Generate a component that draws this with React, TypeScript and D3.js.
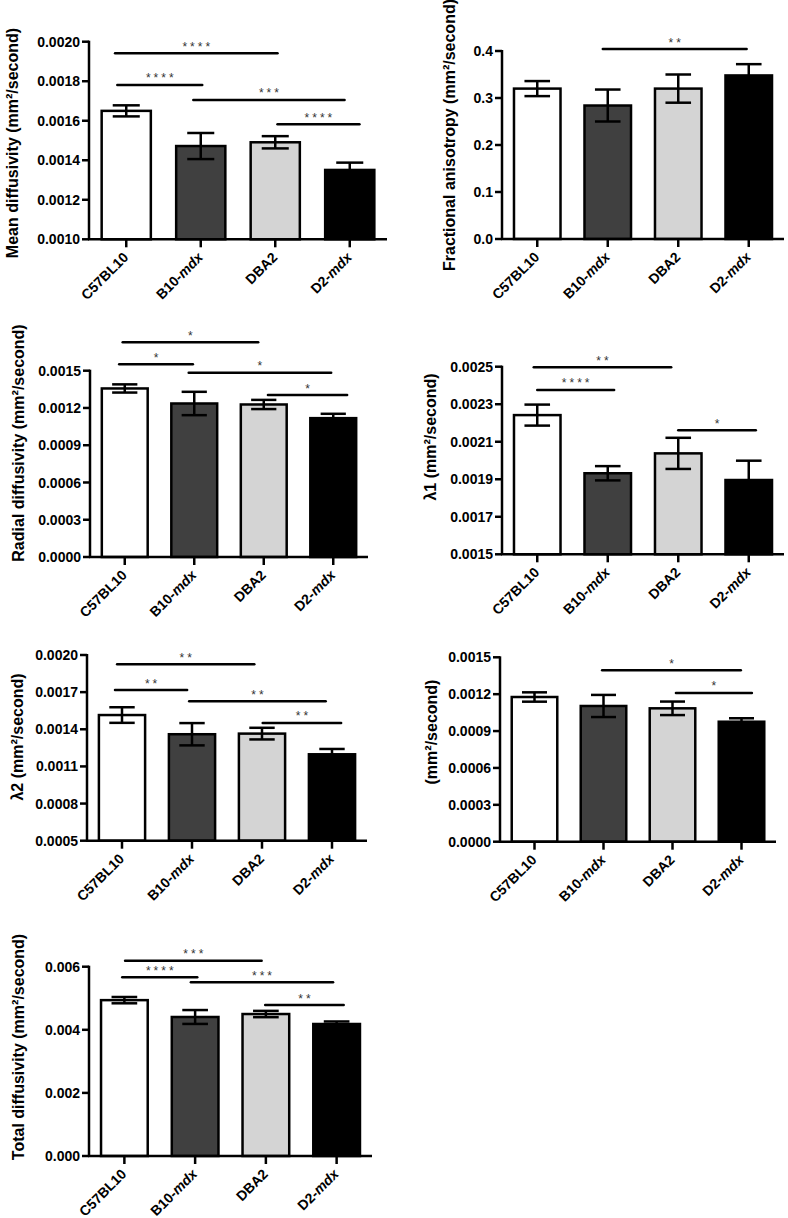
import React from "react";
import * as d3 from "d3";

// ---------- data ----------
const categories = ["C57BL10", "B10-mdx", "DBA2", "D2-mdx"];
const barFills = ["#ffffff", "#404040", "#d4d4d4", "#000000"];

const mdMean = [0.00165, 0.001472, 0.001491, 0.001351];
const mdSem = [0.000028, 0.000066, 0.000031, 0.000037];
const mdTicks = [0.001, 0.0012, 0.0014, 0.0016, 0.0018, 0.002];
const mdSig = [
  { from: -0.15, to: 2.03, y: 0.001941, stars: "****" },
  { from: -0.12, to: 1.02, y: 0.001781, stars: "****" },
  { from: 0.9, to: 2.93, y: 0.001705, stars: "***" },
  { from: 2.03, to: 3.13, y: 0.001582, stars: "****" },
];

const faMean = [0.32, 0.284, 0.32, 0.348];
const faSem = [0.016, 0.034, 0.03, 0.024];
const faTicks = [0, 0.1, 0.2, 0.3, 0.4];
const faSig = [{ from: 0.93, to: 2.97, y: 0.404, stars: "**" }];

const rdMean = [0.001357, 0.001236, 0.001228, 0.001118];
const rdSem = [0.000033, 0.000094, 0.000037, 0.000035];
const rdTicks = [0, 0.0003, 0.0006, 0.0009, 0.0012, 0.0015];
const rdSig = [
  { from: -0.03, to: 1.92, y: 0.001729, stars: "*" },
  { from: -0.08, to: 0.98, y: 0.001552, stars: "*" },
  { from: 0.92, to: 2.97, y: 0.001484, stars: "*" },
  { from: 2.06, to: 3.2, y: 0.001304, stars: "*" },
];

const l1Mean = [0.002242, 0.001932, 0.002038, 0.001896];
const l1Sem = [0.000056, 0.000038, 0.000083, 0.000103];
const l1Ticks = [0.0015, 0.0017, 0.0019, 0.0021, 0.0023, 0.0025];
const l1Sig = [
  { from: -0.05, to: 1.9, y: 0.002497, stars: "**" },
  { from: 0.0, to: 1.09, y: 0.002376, stars: "****" },
  { from: 2.0, to: 3.1, y: 0.002161, stars: "*" },
];

const l2Mean = [0.001515, 0.00136, 0.001365, 0.001198];
const l2Sem = [0.000063, 0.00009, 0.000047, 0.000043];
const l2Ticks = [0.0005, 0.0008, 0.0011, 0.0014, 0.0017, 0.002];
const l2Sig = [
  { from: -0.07, to: 1.89, y: 0.001925, stars: "**" },
  { from: -0.1, to: 0.93, y: 0.001717, stars: "**" },
  { from: 0.96, to: 2.91, y: 0.001626, stars: "**" },
  { from: 2.01, to: 3.13, y: 0.001451, stars: "**" },
];

const l3Mean = [0.001177, 0.001104, 0.001085, 0.000976];
const l3Sem = [0.000038, 0.00009, 0.000055, 0.000028];
const l3Ticks = [0, 0.0003, 0.0006, 0.0009, 0.0012, 0.0015];
const l3Sig = [
  { from: 0.98, to: 2.99, y: 0.001394, stars: "*" },
  { from: 2.05, to: 3.15, y: 0.00121, stars: "*" },
];

const tdMean = [0.00494, 0.004406, 0.0045, 0.004184];
const tdSem = [0.0001, 0.00022, 0.0001, 0.00008];
const tdTicks = [0, 0.002, 0.004, 0.006];
const tdSig = [
  { from: 0.01, to: 1.94, y: 0.00619, stars: "***" },
  { from: -0.03, to: 1.03, y: 0.005664, stars: "****" },
  { from: 0.94, to: 2.95, y: 0.005506, stars: "***" },
  { from: 1.99, to: 3.1, y: 0.004786, stars: "**" },
];

// ---------- layout ----------
const FONT = "'Liberation Sans', Arial, Helvetica, sans-serif";
const SW = 2.5;

type Sig = { from: number; to: number; y: number; stars: string };
type PanelCfg = {
  x0: number; x1: number; yTop: number; yBot: number;
  labelX: number; labelY: number; label: string;
  mean: number[]; sem: number[]; ticks: number[]; fmt: string; sig: Sig[];
};

const panels: PanelCfg[] = [
  { x0: 89, x1: 387, yTop: 41.7, yBot: 239.3, labelX: 12, labelY: 143, label: "Mean diffusivity (mm²/second)", mean: mdMean, sem: mdSem, ticks: mdTicks, fmt: ".4f", sig: mdSig },
  { x0: 502, x1: 784, yTop: 51, yBot: 239, labelX: 449, labelY: 135, label: "Fractional anisotropy (mm²/second)", mean: faMean, sem: faSem, ticks: faTicks, fmt: ".1f", sig: faSig },
  { x0: 90, x1: 368, yTop: 370.7, yBot: 557, labelX: 18, labelY: 443, label: "Radial diffusivity (mm²/second)", mean: rdMean, sem: rdSem, ticks: rdTicks, fmt: ".4f", sig: rdSig },
  { x0: 502, x1: 784, yTop: 366.7, yBot: 554.3, labelX: 430, labelY: 437, label: "λ1 (mm²/second)", mean: l1Mean, sem: l1Sem, ticks: l1Ticks, fmt: ".4f", sig: l1Sig },
  { x0: 87, x1: 367, yTop: 655, yBot: 840.7, labelX: 17, labelY: 737, label: "λ2 (mm²/second)", mean: l2Mean, sem: l2Sem, ticks: l2Ticks, fmt: ".4f", sig: l2Sig },
  { x0: 500, x1: 776, yTop: 657.3, yBot: 841.7, labelX: 431, labelY: 732, label: "(mm²/second)", mean: l3Mean, sem: l3Sem, ticks: l3Ticks, fmt: ".4f", sig: l3Sig },
  { x0: 89, x1: 372, yTop: 966.7, yBot: 1156, labelX: 18, labelY: 1047, label: "Total diffusivity (mm²/second)", mean: tdMean, sem: tdSem, ticks: tdTicks, fmt: ".3f", sig: tdSig },
];

function CatLabel({ name }: { name: string }) {
  const parts = name.split("-");
  if (parts.length === 2 && parts[1] === "mdx") {
    return (
      <>
        <tspan>{parts[0] + "-"}</tspan>
        <tspan fontStyle="italic">{parts[1]}</tspan>
      </>
    );
  }
  return <>{name}</>;
}

function Panel({ cfg }: { cfg: PanelCfg }) {
  const x = d3
    .scaleBand<string>()
    .domain(categories)
    .range([cfg.x0, cfg.x1])
    .paddingInner(0.34)
    .paddingOuter(0.17);
  const y = d3
    .scaleLinear()
    .domain([cfg.ticks[0], cfg.ticks[cfg.ticks.length - 1]])
    .range([cfg.yBot, cfg.yTop]);
  const bw = x.bandwidth();
  const step = x.step();
  const c0 = (x(categories[0]) as number) + bw / 2;
  const sx = d3.scaleLinear().domain([0, 3]).range([c0, c0 + 3 * step]);
  const fmt = d3.format(cfg.fmt);
  const cap = bw * 0.55;
  const starLS = 3;

  return (
    <g>
      {/* bars */}
      {categories.map((c, i) => (
        <rect
          key={c}
          x={x(c) as number}
          y={y(cfg.mean[i])}
          width={bw}
          height={y(cfg.ticks[0]) - y(cfg.mean[i])}
          fill={barFills[i]}
          stroke="#000"
          strokeWidth={SW}
        />
      ))}
      {/* error bars */}
      {categories.map((c, i) => {
        const cx = (x(c) as number) + bw / 2;
        const hi = y(cfg.mean[i] + cfg.sem[i]);
        const lo = y(cfg.mean[i] - cfg.sem[i]);
        return (
          <g key={c} stroke="#000" strokeWidth={SW}>
            <line x1={cx} x2={cx} y1={hi} y2={lo} />
            <line x1={cx - cap / 2} x2={cx + cap / 2} y1={hi} y2={hi} />
            <line x1={cx - cap / 2} x2={cx + cap / 2} y1={lo} y2={lo} />
          </g>
        );
      })}
      {/* y axis */}
      <line x1={cfg.x0} x2={cfg.x0} y1={y.range()[1] - 1} y2={cfg.yBot} stroke="#000" strokeWidth={SW} />
      {cfg.ticks.map((t) => (
        <g key={t}>
          <line x1={cfg.x0 - 7} x2={cfg.x0} y1={y(t)} y2={y(t)} stroke="#000" strokeWidth={SW} />
          <text
            x={cfg.x0 - 9}
            y={y(t)}
            dy="0.36em"
            textAnchor="end"
            fontFamily={FONT}
            fontWeight="bold"
            fontSize={14}
          >
            {fmt(t)}
          </text>
        </g>
      ))}
      {/* x axis */}
      <line x1={cfg.x0 - 1} x2={cfg.x1} y1={cfg.yBot} y2={cfg.yBot} stroke="#000" strokeWidth={SW} />
      {categories.map((c) => {
        const cx = (x(c) as number) + bw / 2;
        return (
          <g key={c}>
            <line x1={cx} x2={cx} y1={cfg.yBot} y2={cfg.yBot + 8} stroke="#000" strokeWidth={SW} />
            <text
              transform={`translate(${cx + 3},${cfg.yBot + 19}) rotate(-45)`}
              textAnchor="end"
              fontFamily={FONT}
              fontWeight="bold"
              fontSize={14}
            >
              <CatLabel name={c} />
            </text>
          </g>
        );
      })}
      {/* y label */}
      <text
        transform={`translate(${cfg.labelX},${cfg.labelY}) rotate(-90)`}
        textAnchor="middle"
        dy="0.36em"
        fontFamily={FONT}
        fontWeight="bold"
        fontSize={16}
      >
        {cfg.label}
      </text>
      {/* significance */}
      {cfg.sig.map((s, k) => {
        const a = sx(s.from);
        const b = sx(s.to);
        const yy = y(s.y);
        return (
          <g key={k}>
            <line x1={a} x2={b} y1={yy} y2={yy} stroke="#000" strokeWidth={SW} strokeLinecap="round" />
            <text
              x={(a + b) / 2 + starLS / 2}
              y={yy - 2.5}
              textAnchor="middle"
              fontFamily={FONT}
              fontSize={12}
              letterSpacing={starLS}
              fill="#333"
            >
              {s.stars}
            </text>
          </g>
        );
      })}
    </g>
  );
}

export default function App() {
  return (
    <svg
      width={788}
      height={1218}
      viewBox="0 0 788 1218"
      style={{ position: "absolute", left: 0, top: 0, background: "#fff" }}
    >
      <rect x={0} y={0} width={788} height={1218} fill="#fff" />
      {panels.map((p, i) => (
        <Panel key={i} cfg={p} />
      ))}
    </svg>
  );
}
